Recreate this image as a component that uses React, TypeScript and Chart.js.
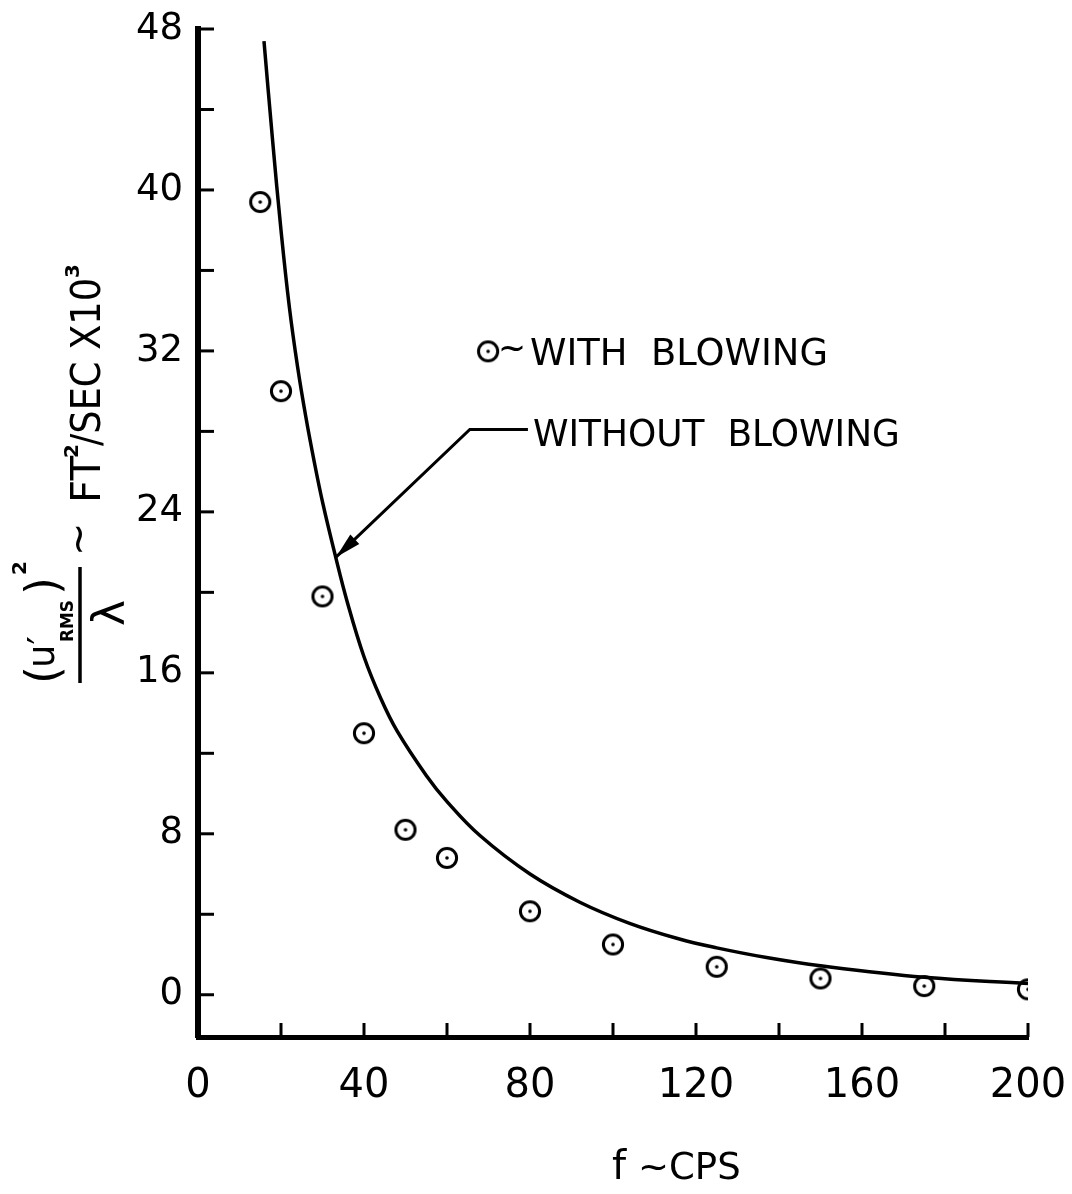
import React, { useEffect, useRef } from "react";
import { Chart, registerables } from "chart.js";

Chart.register(...registerables);

// ---- data ----
const withBlowingF = [15, 20, 30, 40, 50, 60, 80, 100, 125, 150, 175, 200];
const withBlowingU = [39.4, 30.0, 19.8, 13.0, 8.2, 6.8, 4.15, 2.5, 1.39, 0.81, 0.43, 0.27];

const withoutBlowingF = [15.9, 18, 20, 22, 24, 26, 28, 30, 33, 36, 40, 44, 48, 55, 60, 68, 80, 92, 104, 116, 125, 137, 150, 175, 200];
const withoutBlowingU = [47.4, 42.4, 38.0, 34.2, 31.2, 28.7, 26.5, 24.5, 21.9, 19.5, 16.8, 14.75, 13.1, 10.9, 9.6, 7.9, 6.0, 4.6, 3.55, 2.77, 2.33, 1.85, 1.44, 0.87, 0.56];

const xTickValues = [0, 20, 40, 60, 80, 100, 120, 140, 160, 180, 200];
const xLabelValues = [0, 40, 80, 120, 160, 200];
const yTickValues = [0, 4, 8, 12, 16, 20, 24, 28, 32, 36, 40, 44, 48];
const yLabelValues = [0, 8, 16, 24, 32, 40, 48];

const legendWith = "WITH  BLOWING";
const legendWithout = "WITHOUT  BLOWING";

const FONT = '"DejaVu Sans"';

function makeMarker(): HTMLCanvasElement {
  const c = document.createElement("canvas");
  c.width = 26;
  c.height = 26;
  const g = c.getContext("2d")!;
  g.strokeStyle = "#000";
  g.lineWidth = 3;
  g.beginPath();
  g.arc(13, 13, 9.6, 0, Math.PI * 2);
  g.stroke();
  g.fillStyle = "#000";
  g.beginPath();
  g.arc(13, 13, 1.8, 0, Math.PI * 2);
  g.fill();
  return c;
}

export default function App() {
  const ref = useRef<HTMLCanvasElement>(null);

  useEffect(() => {
    const canvas = ref.current!;
    const marker = makeMarker();

    const decorations = {
      id: "decorations",
      afterDraw(chart: any) {
        const { ctx, chartArea, scales } = chart;
        const x = scales.x;
        const y = scales.y;
        ctx.save();
        ctx.strokeStyle = "#000";
        ctx.fillStyle = "#000";

        // inward tick marks
        ctx.lineWidth = 3;
        for (const v of yTickValues) {
          const py = y.getPixelForValue(v);
          ctx.beginPath();
          ctx.moveTo(chartArea.left, py);
          ctx.lineTo(chartArea.left + 16, py);
          ctx.stroke();
        }
        for (const v of xTickValues) {
          if (v === 0) continue;
          const px = x.getPixelForValue(v);
          ctx.beginPath();
          ctx.moveTo(px, chartArea.bottom);
          ctx.lineTo(px, chartArea.bottom - 14);
          ctx.stroke();
        }

        // legend: with blowing
        ctx.drawImage(marker, x.getPixelForValue(69.9) - 13, y.getPixelForValue(31.98) - 13);
        ctx.textAlign = "left";
        ctx.textBaseline = "alphabetic";
        ctx.font = `38px ${FONT}`;
        ctx.fillText("~", x.getPixelForValue(72.3), y.getPixelForValue(31.55), 28);
        ctx.fillText(legendWith, x.getPixelForValue(80.0), y.getPixelForValue(31.29), 298);
        ctx.fillText(legendWithout, x.getPixelForValue(80.7), y.getPixelForValue(27.27), 367);

        // leader line + arrow for without blowing
        const ex = x.getPixelForValue(65.5), ey = y.getPixelForValue(28.1);
        const lx = x.getPixelForValue(79.5);
        const tx = x.getPixelForValue(33.25), ty = y.getPixelForValue(21.75);
        ctx.lineWidth = 3;
        ctx.beginPath();
        ctx.moveTo(lx, ey);
        ctx.lineTo(ex, ey);
        ctx.lineTo(tx, ty);
        ctx.stroke();
        const ang = Math.atan2(ty - ey, tx - ex);
        const L = 26, W = 6.5;
        ctx.beginPath();
        ctx.moveTo(tx, ty);
        ctx.lineTo(tx - L * Math.cos(ang) + W * Math.sin(ang), ty - L * Math.sin(ang) - W * Math.cos(ang));
        ctx.lineTo(tx - L * Math.cos(ang) - W * Math.sin(ang), ty - L * Math.sin(ang) + W * Math.cos(ang));
        ctx.closePath();
        ctx.fill();

        // x-axis title
        ctx.font = `40px ${FONT}`;
        ctx.fillText("f", 612, 1179);
        ctx.font = `37px ${FONT}`;
        ctx.fillText("~CPS", 638, 1179, 136);

        // y-axis title (rotated)
        ctx.lineWidth = 3.5;
        ctx.beginPath();
        ctx.moveTo(80, 567);
        ctx.lineTo(80, 683);
        ctx.stroke();

        ctx.rotate(-Math.PI / 2);
        ctx.textAlign = "left";
        ctx.font = `46px ${FONT}`;
        ctx.fillText("(", -684, 58);
        ctx.font = `37px ${FONT}`;
        ctx.fillText("u\u2032", -668, 54);
        ctx.font = `bold 18px ${FONT}`;
        ctx.fillText("RMS", -642, 73, 42);
        ctx.font = `46px ${FONT}`;
        ctx.fillText(")", -595, 58);
        ctx.font = `bold 20px ${FONT}`;
        ctx.fillText("2", -575, 26);
        ctx.font = `44px ${FONT}`;
        ctx.textAlign = "center";
        ctx.fillText("\u03bb", -613, 124);
        ctx.textAlign = "left";
        ctx.font = `40px ${FONT}`;
        ctx.fillText("~", -556, 92);
        ctx.font = `41px ${FONT}`;
        ctx.fillText("FT", -503, 100, 47);
        ctx.font = `bold 20px ${FONT}`;
        ctx.fillText("2", -458, 78);
        ctx.font = `41px ${FONT}`;
        ctx.fillText("/SEC X10", -446, 100, 168);
        ctx.font = `bold 20px ${FONT}`;
        ctx.fillText("3", -278, 79);

        ctx.restore();
      },
    };

    const chart = new Chart(canvas, {
      type: "scatter",
      data: {
        datasets: [
          {
            type: "line",
            label: legendWithout,
            data: withoutBlowingF.map((f, i) => ({ x: f, y: withoutBlowingU[i] })),
            borderColor: "#000",
            borderWidth: 3.5,
            pointRadius: 0,
            tension: 0.4,
            fill: false,
          } as any,
          {
            type: "scatter",
            label: legendWith,
            data: withBlowingF.map((f, i) => ({ x: f, y: withBlowingU[i] })),
            pointStyle: marker as any,
            pointRadius: 13,
            pointHoverRadius: 13,
          } as any,
        ],
      },
      options: {
        responsive: false,
        animation: false,
        devicePixelRatio: 1,
        layout: { padding: { left: 0, right: 44, top: 29, bottom: 0 } },
        plugins: { legend: { display: false }, tooltip: { enabled: false } },
        scales: {
          x: {
            type: "linear",
            min: 0,
            max: 200,
            afterFit: (s: any) => {
              s.height = 157;
              s.paddingLeft = 0;
              s.paddingRight = 0;
            },
            afterBuildTicks: (s: any) => {
              s.ticks = xTickValues.map((v) => ({ value: v }));
            },
            ticks: {
              autoSkip: false,
              maxRotation: 0,
              padding: 26,
              color: "#000",
              font: { family: "DejaVu Sans", size: 40 },
              callback: (v: any) => (xLabelValues.includes(Number(v)) ? String(v) : ""),
            },
            grid: { display: true, drawOnChartArea: false, drawTicks: false },
            border: { display: true, width: 5, color: "#000" },
          },
          y: {
            type: "linear",
            min: -2.1,
            max: 48,
            afterFit: (s: any) => {
              s.width = 198;
              s.paddingTop = 0;
              s.paddingBottom = 0;
            },
            afterBuildTicks: (s: any) => {
              s.ticks = yTickValues.map((v) => ({ value: v }));
            },
            ticks: {
              autoSkip: false,
              padding: 15,
              color: "#000",
              font: { family: "DejaVu Sans", size: 37 },
              callback: (v: any) => (yLabelValues.includes(Number(v)) ? String(v) : ""),
            },
            grid: { display: true, drawOnChartArea: false, drawTicks: false },
            border: { display: true, width: 6, color: "#000" },
          },
        },
      },
      plugins: [decorations],
    });

    return () => chart.destroy();
  }, []);

  return (
    <div style={{ position: "absolute", left: 0, top: 0, width: 1072, height: 1194, background: "#fff" }}>
      <canvas ref={ref} width={1072} height={1194} style={{ width: 1072, height: 1194, display: "block" }} />
    </div>
  );
}
